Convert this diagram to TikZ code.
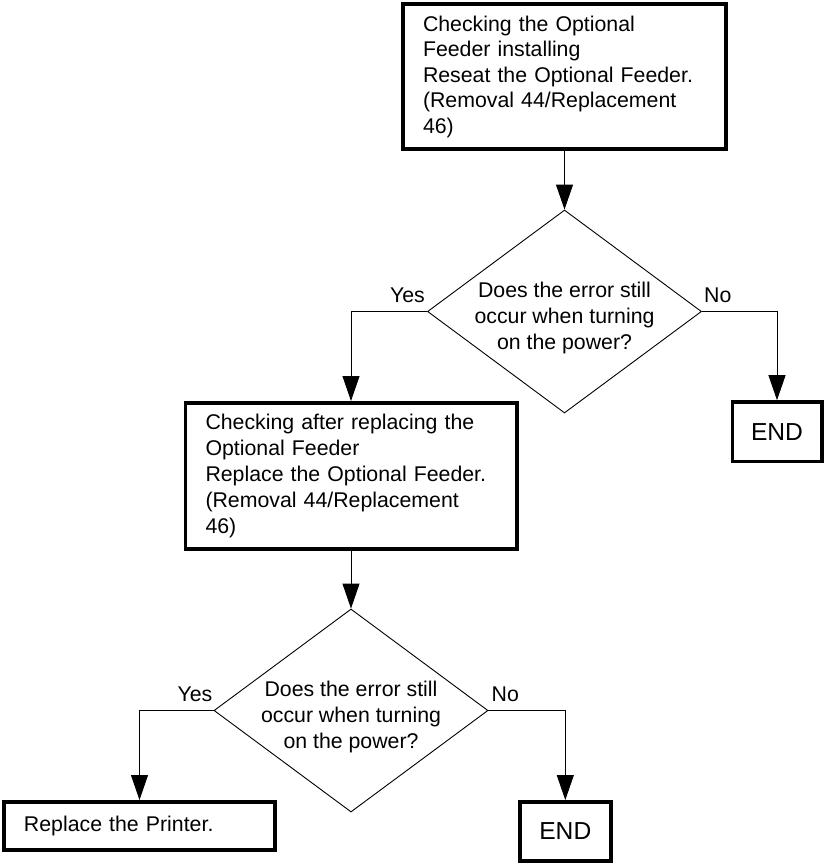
\documentclass[tikz,border=0pt]{standalone}
\usepackage{fontspec}
\setmainfont{Liberation Sans}
\usetikzlibrary{arrows.meta,shapes.geometric}
\tikzset{
  stepbox/.style={draw=black, line width=3.6bp, rectangle, inner xsep=20.2bp, inner ysep=0bp,
    align=left, font=\fontsize{21.3bp}{25.6bp}\selectfont},
  endbox/.style={draw=black, line width=3.6bp, rectangle, inner sep=0bp,
    font=\fontsize{24.6bp}{28bp}\selectfont},
  decision/.style={draw=black, line width=0.9bp, diamond, inner sep=0bp,
    minimum width=274bp, minimum height=203bp},
  dtext/.style={align=center, inner sep=0bp, font=\fontsize{21.3bp}{26bp}\selectfont},
  lab/.style={inner sep=0bp, font=\fontsize{21.3bp}{25.8bp}\selectfont},
  arr/.style={draw=black, line width=0.9bp, -{Triangle[length=25bp, width=17bp]}}
}
\begin{document}
\begin{tikzpicture}[x=1bp, y=-1bp]
\useasboundingbox (0,0) rectangle (824,864);

% box 1
\node[stepbox, minimum width=323.4bp, minimum height=144.9bp, text width=283bp] (b1) at (564.5,76.75)
  {Checking the Optional\\Feeder installing\\Reseat the Optional Feeder.\\(Removal 44/Replacement\\46)};

% decision 1
\node[decision] (d1) at (564.5,311.5) {};
\node[dtext] (t1) at (564.5,317.5) {Does the error still\\occur when turning\\on the power?};

% END 1
\node[endbox, minimum width=89.4bp, minimum height=59.4bp] (e1) at (777,431.7) {END};

% box 2
\node[stepbox, minimum width=331.4bp, minimum height=146.4bp, text width=291bp,
  font=\fontsize{21.3bp}{26.2bp}\selectfont] (b2) at (351,476)
  {Checking after replacing the\\Optional Feeder\\Replace the Optional Feeder.\\(Removal 44/Replacement\\46)};

% decision 2
\node[decision] (d2) at (351,710.5) {};
\node[dtext] (t2) at (351,716.5) {Does the error still\\occur when turning\\on the power?};

% Replace printer
\node[stepbox, minimum width=271.4bp, minimum height=48.4bp, text width=231bp] (rp) at (139.5,826)
  {Replace the Printer.};

% END 2
\node[endbox, minimum width=90.9bp, minimum height=58.9bp] (e2) at (565.3,831.3) {END};

% labels
\node[lab, anchor=base east] (y1) at ([xshift=-2bp, yshift=9.5bp]d1.west) {Yes};
\node[lab, anchor=base west] (n1) at ([xshift=2bp, yshift=9.5bp]d1.east) {No};
\node[lab, anchor=base east] (y2) at ([xshift=-1bp, yshift=9bp]d2.west) {Yes};
\node[lab, anchor=base west] (n2) at ([xshift=3bp, yshift=9bp]d2.east) {No};

% connectors
\draw[arr] (b1.south) -- (d1.north);
\draw[arr] (d1.west) -| (b2.north);
\draw[arr] (d1.east) -| (e1.north);
\draw[arr] (b2.south) -- (d2.north);
\draw[arr] (d2.west) -| (rp.north);
\draw[arr] (d2.east) -| (e2.north);
\end{tikzpicture}
\end{document}
